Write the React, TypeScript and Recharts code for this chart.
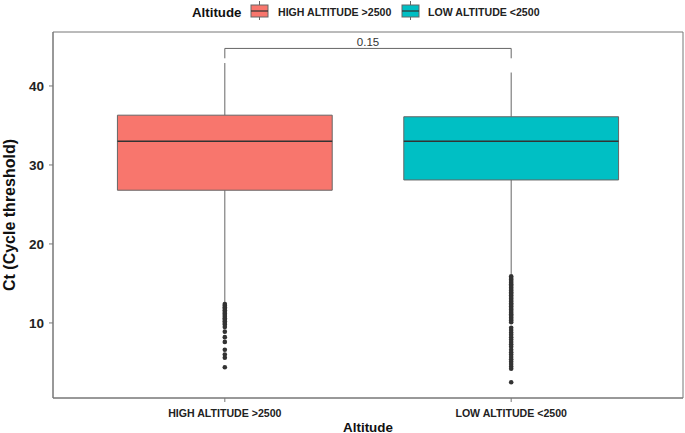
import { ComposedChart, XAxis, YAxis, Scatter, ReferenceArea, ReferenceLine } from "recharts"

const groups = ["HIGH ALTITUDE >2500", "LOW ALTITUDE <2500"]
const groupColors = ["#F8766D", "#00BFC4"]
const whiskerLow = [12.6, 16.2]
const q1 = [26.8, 28.1]
const median = [33.0, 33.0]
const q3 = [36.3, 36.1]
const whiskerHigh = [42.9, 41.7]

const highOutliers = [
  12.4, 12.2, 12.0, 11.8, 11.6, 11.4, 11.2, 11.0, 10.8, 10.6, 10.4, 10.2, 10.0, 9.8, 9.5, 8.9, 8.2, 7.6,
  6.6, 6.0, 5.6, 4.4,
]
const lowOutliers = [
  15.9, 15.7, 15.5, 15.3, 15.1, 14.9, 14.7, 14.5, 14.3, 14.1, 13.9, 13.7, 13.5, 13.3, 13.1, 12.9, 12.7, 12.5,
  12.3, 12.1, 11.9, 11.7, 11.5, 11.3, 11.1, 10.9, 10.7, 10.5, 10.3, 10.1, 9.4, 9.1, 8.8, 8.5, 8.2, 7.9, 7.6,
  7.3, 7.0, 6.6, 6.3, 6.0, 5.7, 5.4, 5.1, 4.8, 4.5, 4.2, 2.5,
]
const yTicks = [10, 20, 30, 40]
const pValue = "0.15"
const bracketLevel = 44.75
const bracketTip = 43.5

const font = "'Liberation Sans', Arial, sans-serif"
const boxHalf = 0.375

const outliers = [
  ...highOutliers.map((ct) => ({ pos: 1, ct })),
  ...lowOutliers.map((ct) => ({ pos: 2, ct })),
]

function Legend() {
  const keys = [
    { x: 251, tx: 278 },
    { x: 402, tx: 428 },
  ]
  return (
    <svg width={685} height={24} style={{ position: "absolute", left: 0, top: 0 }}>
      <text x={192} y={16.5} fontFamily={font} fontWeight="bold" fontSize={13.3} fill="#111">
        Altitude
      </text>
      {keys.map((k, i) => (
        <g key={groups[i]}>
          <line x1={k.x + 8.5} x2={k.x + 8.5} y1={1} y2={20} stroke="#666" />
          <rect x={k.x} y={5} width={17} height={12} fill={groupColors[i]} stroke="#666" />
          <line x1={k.x} x2={k.x + 17} y1={11} y2={11} stroke="#333" strokeWidth={1.2} />
          <text x={k.tx} y={16} fontFamily={font} fontWeight="bold" fontSize={10.6} fill="#222">
            {groups[i]}
          </text>
        </g>
      ))}
    </svg>
  )
}

export default function App() {
  return (
    <div style={{ position: "absolute", left: 0, top: 0, width: 685, height: 433, background: "#fff" }}>
      <Legend />
      <ComposedChart width={685} height={433} margin={{ top: 32, right: 2, left: 0, bottom: 0 }}>
        <XAxis
          dataKey="pos"
          type="number"
          domain={[0.4, 2.6]}
          ticks={[1, 2]}
          allowDataOverflow
          tickFormatter={(v) => groups[v - 1]}
          height={35}
          tickSize={4}
          tickMargin={7}
          stroke="#777"
          tick={{ fontFamily: font, fontWeight: "bold", fontSize: 10.6, fill: "#222" }}
          label={{
            value: "Altitude",
            position: "insideBottom",
            offset: 1.5,
            style: { fontFamily: font, fontWeight: "bold", fontSize: 13.4, fill: "#111" },
          }}
        />
        <YAxis
          dataKey="ct"
          type="number"
          domain={[0.5, 46.83]}
          ticks={yTicks}
          allowDataOverflow
          width={53}
          tickSize={4}
          tickMargin={5}
          stroke="#777"
          tick={{ fontFamily: font, fontWeight: "bold", fontSize: 13.5, fill: "#222" }}
          label={{
            value: "Ct (Cycle threshold)",
            angle: -90,
            position: "insideLeft",
            offset: 9,
            style: { textAnchor: "middle", fontFamily: font, fontWeight: "bold", fontSize: 16, fill: "#111" },
          }}
        />
        <ReferenceArea
          x1={0.4}
          x2={2.6}
          y1={0.5}
          y2={46.83}
          fill="none"
          stroke="#777"
          fillOpacity={0}
          ifOverflow="visible"
        />
        {groups.map((g, i) => (
          <ReferenceLine
            key={`wh-${g}`}
            segment={[
              { x: i + 1, y: q3[i] },
              { x: i + 1, y: whiskerHigh[i] },
            ]}
            stroke="#666"
            ifOverflow="visible"
          />
        ))}
        {groups.map((g, i) => (
          <ReferenceLine
            key={`wl-${g}`}
            segment={[
              { x: i + 1, y: whiskerLow[i] },
              { x: i + 1, y: q1[i] },
            ]}
            stroke="#666"
            ifOverflow="visible"
          />
        ))}
        {groups.map((g, i) => (
          <ReferenceArea
            key={`box-${g}`}
            x1={i + 1 - boxHalf}
            x2={i + 1 + boxHalf}
            y1={q1[i]}
            y2={q3[i]}
            fill={groupColors[i]}
            fillOpacity={1}
            stroke="#666"
            ifOverflow="visible"
          />
        ))}
        {groups.map((g, i) => (
          <ReferenceLine
            key={`med-${g}`}
            segment={[
              { x: i + 1 - boxHalf, y: median[i] },
              { x: i + 1 + boxHalf, y: median[i] },
            ]}
            stroke="#333"
            strokeWidth={1.3}
            ifOverflow="visible"
          />
        ))}
        <ReferenceLine
          segment={[
            { x: 1, y: bracketTip },
            { x: 1, y: bracketLevel },
          ]}
          stroke="#666"
          ifOverflow="visible"
        />
        <ReferenceLine
          segment={[
            { x: 2, y: bracketTip },
            { x: 2, y: bracketLevel },
          ]}
          stroke="#666"
          ifOverflow="visible"
        />
        <ReferenceLine
          segment={[
            { x: 1, y: bracketLevel },
            { x: 2, y: bracketLevel },
          ]}
          stroke="#666"
          ifOverflow="visible"
          label={{ value: pValue, position: "top", offset: 2, fontFamily: font, fontSize: 11.5, fill: "#333" }}
        />
        <Scatter
          data={outliers}
          dataKey="ct"
          fill="#333"
          isAnimationActive={false}
          shape={(p: any) => <circle cx={p.cx} cy={p.cy} r={2.3} fill="#333" />}
        />
      </ComposedChart>
    </div>
  )
}
